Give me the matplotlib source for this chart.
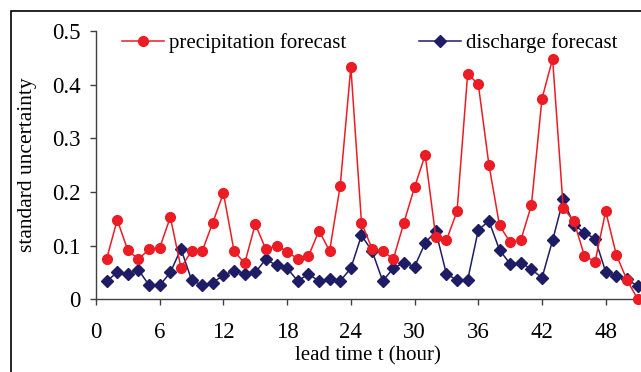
import matplotlib
matplotlib.use('Agg')
import matplotlib.pyplot as plt
from matplotlib.patches import Rectangle

# ---- data ----
lead_time = list(range(1, 52))

precip_forecast = [
    0.075, 0.148, 0.091, 0.075, 0.093, 0.096, 0.153, 0.059, 0.090, 0.090,
    0.143, 0.198, 0.090, 0.067, 0.140, 0.093, 0.100, 0.089, 0.075, 0.080,
    0.128, 0.090, 0.212, 0.433, 0.143, 0.094, 0.090, 0.075, 0.143, 0.209,
    0.269, 0.116, 0.110, 0.164, 0.420, 0.401, 0.251, 0.138, 0.106, 0.110,
    0.175, 0.374, 0.448, 0.170, 0.146, 0.081, 0.070, 0.164, 0.083, 0.036,
    0.001,
]

discharge_forecast = [
    0.034, 0.050, 0.047, 0.055, 0.026, 0.026, 0.050, 0.094, 0.036, 0.026,
    0.031, 0.045, 0.053, 0.047, 0.050, 0.075, 0.063, 0.058, 0.034, 0.047,
    0.034, 0.037, 0.034, 0.058, 0.119, 0.090, 0.034, 0.058, 0.068, 0.061,
    0.105, 0.127, 0.047, 0.036, 0.036, 0.129, 0.146, 0.092, 0.066, 0.068,
    0.056, 0.040, 0.110, 0.186, 0.139, 0.124, 0.113, 0.051, 0.043, 0.037,
    0.025,
]

x_ticks = list(range(0, 49, 6))
y_ticks = [0, 0.1, 0.2, 0.3, 0.4, 0.5]
y_ticklabels = ['0', '0.1', '0.2', '0.3', '0.4', '0.5']

plt.rcParams['font.family'] = ['Liberation Serif', 'DejaVu Serif']

W, H = 641, 372
fig = plt.figure(figsize=(W / 100, H / 100), dpi=100)

# outer chart frame (only top and left visible, rest cropped)
fig.patches.append(Rectangle((11 / W, -0.1), 1.2, (H - 11) / H + 0.1,
                             transform=fig.transFigure, fill=False,
                             edgecolor='black', linewidth=1.2))

# plot area: x=0 at 96px, ~10.62 px per hour; y=0 at 299.3px, y=0.5 at 31px
xmax = 54
px_per_hour = (605.7 - 96) / 48
ax_w_px = xmax * px_per_hour
left = 96 / W
width = ax_w_px / W
bottom = (H - 299.3) / H
height = (299.3 - 31) / H
ax = fig.add_axes([left, bottom, width, height])

red = '#ec1c24'
navy = '#1f1c66'

ax.plot(lead_time, precip_forecast, color=red, linewidth=1.1, marker='o',
        markersize=7, markeredgecolor=red, label='precipitation forecast',
        clip_on=False, zorder=3)
ax.plot(lead_time, discharge_forecast, color=navy, linewidth=1.1, marker='D',
        markersize=6, markeredgecolor=navy, label='discharge forecast',
        clip_on=False, zorder=2)

ax.set_xlim(0, xmax)
ax.set_ylim(0, 0.5)
ax.set_xticks(x_ticks)
ax.set_yticks(y_ticks)
ax.set_yticklabels(y_ticklabels)

for side in ['top', 'right']:
    ax.spines[side].set_visible(False)
for side in ['left', 'bottom']:
    ax.spines[side].set_color('#404040')
    ax.spines[side].set_linewidth(1.0)

ax.tick_params(axis='both', direction='out', length=4.5, width=1.0,
               color='#404040', labelsize=16.5, labelcolor='black')
ax.tick_params(axis='y', pad=6.5)
ax.tick_params(axis='x', pad=12)

ax.set_ylabel('standard uncertainty', fontsize=15.5)
ax.yaxis.set_label_coords((37 - 96) / ax_w_px, 0.5)
ax.set_xlabel('lead time t (hour)', fontsize=15)
ax.xaxis.set_label_coords((368 - 96) / ax_w_px, -0.175)

ax.legend(loc='upper left', bbox_to_anchor=(18 / ax_w_px, 1.022),
          ncol=2, frameon=False, fontsize=15, handlelength=2.0,
          handletextpad=0.25, columnspacing=3.5, borderaxespad=0)

fig.savefig('out.png', dpi=100)
